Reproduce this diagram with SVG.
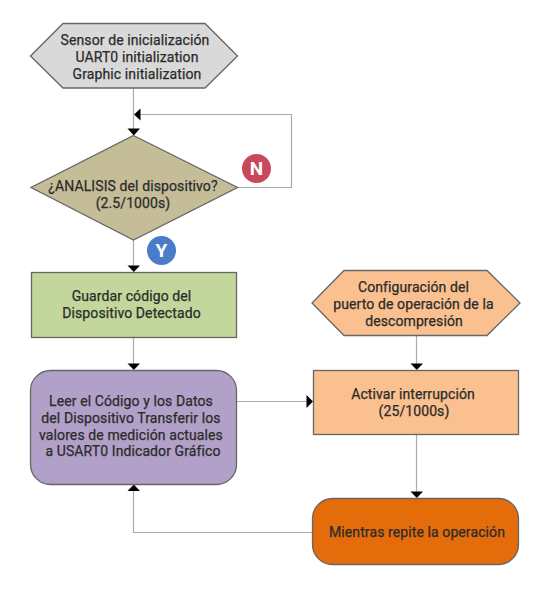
<svg xmlns="http://www.w3.org/2000/svg" width="545" height="602" viewBox="0 0 545 602">
<style>
.n{stroke:#666;stroke-width:1.3}
.c{fill:none;stroke:#aaa;stroke-width:1.2}
.a{fill:#000}
text{font-family:Roboto,"Liberation Sans",sans-serif;font-size:14px;font-weight:400;letter-spacing:.1px;fill:#2b2b2b;stroke:#2b2b2b;stroke-width:.25;text-anchor:middle}
text.b{font-size:19px;font-weight:700;fill:#fff;stroke:none;letter-spacing:0}
</style>
<rect width="545" height="602" fill="#fff"/>
<g id="connectors">
<path class="c" d="M133.5 88V129"/>
<path class="c" d="M237 187.500H291.500V114.500H140"/>
<path class="c" d="M133.500 240V266"/>
<path class="c" d="M133.500 337.500V364"/>
<path class="c" d="M236.500 401.500H307"/>
<path class="c" d="M416.500 335.500V364"/>
<path class="c" d="M416.500 434.500V492"/>
<path class="c" d="M312.500 532.500H133.500V491"/>
<path class="a" d="M127.500 128.500H140L133.800 135.500Z"/>
<path class="a" d="M134 114.500L140.500 108.500V120.500Z"/>
<path class="a" d="M127.500 265.500H140L133.800 272Z"/>
<path class="a" d="M127.500 363.500H140L133.800 370Z"/>
<path class="a" d="M127.500 491H140L133.800 484.500Z"/>
<path class="a" d="M306.500 395V408L313 401.500Z"/>
<path class="a" d="M410.500 363.500H423L416.800 370Z"/>
<path class="a" d="M410.500 491.500H423L416.800 498Z"/>
</g>
<g id="start">
<path class="n" fill="#d9d9d9" d="M63 23.500H205L237.500 56L205 88H63L30.500 56Z"/>
<text x="135" y="45">Sensor de inicialización</text>
<text x="137" y="62">UART0 initialization</text>
<text x="137" y="79">Graphic initialization</text>
</g>
<g id="decision">
<path class="n" fill="#c4bd97" d="M133.500 135.500L237.500 187.500L133.500 240L31 187.500Z"/>
<text x="133" y="191">¿ANALISIS del dispositivo?</text>
<text x="133" y="208">(2.5/1000s)</text>
</g>
<g id="no"><circle cx="256.500" cy="168.500" r="14.500" fill="#c9485b"/><text class="b" x="256.500" y="175">N</text></g>
<g id="yes"><circle cx="161.500" cy="250.500" r="14.500" fill="#4a7cc7"/><text class="b" x="161.500" y="257">Y</text></g>
<g id="save">
<rect class="n" x="31.500" y="272.500" width="205" height="65" fill="#c3d69b"/>
<text x="131.500" y="301">Guardar código del</text>
<text x="131.500" y="318">Dispositivo Detectado</text>
</g>
<g id="read">
<rect class="n" x="30.500" y="370.500" width="206" height="114" rx="20" fill="#b1a0c7"/>
<text x="131" y="406">Leer el Código y los Datos</text>
<text x="131" y="423">del Dispositivo Transferir los</text>
<text x="131" y="440">valores de medición actuales</text>
<text x="133" y="456">a USART0 Indicador Gráfico</text>
</g>
<g id="config">
<path class="n" fill="#fac090" d="M344 270.500H487L520 303L487 335.500H344L312 303Z"/>
<text x="413.500" y="292">Configuración del</text>
<text x="413.500" y="309">puerto de operación de la</text>
<text x="414" y="326">descompresión</text>
</g>
<g id="activate">
<rect class="n" x="313.500" y="370.500" width="205" height="64" fill="#fac090"/>
<text x="413" y="399">Activar interrupción</text>
<text x="414" y="416">(25/1000s)</text>
</g>
<g id="loop">
<rect class="n" x="312.500" y="498.500" width="206" height="66" rx="20" fill="#e46c0a"/>
<text x="417" y="537">Mientras repite la operación</text>
</g>
</svg>
